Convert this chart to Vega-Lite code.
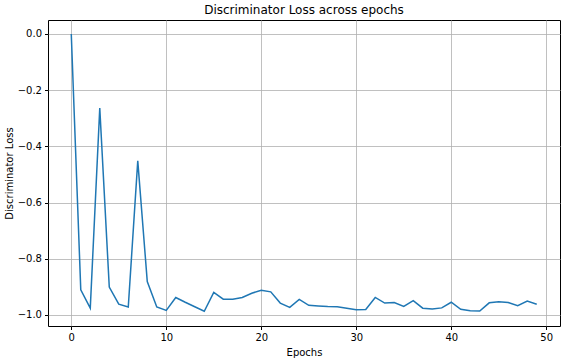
{
  "$schema": "https://vega.github.io/schema/vega-lite/v6.json",
  "autosize": "none",
  "width": 512,
  "height": 306,
  "padding": {"left": 48, "top": 20, "right": 7, "bottom": 35},
  "background": "white",
  "config": {
    "font": "DejaVu Sans",
    "view": {"stroke": "black", "strokeWidth": 1},
    "axis": {
      "labelFont": "DejaVu Sans",
      "titleFont": "DejaVu Sans",
      "labelFontSize": 10,
      "titleFontSize": 10,
      "titleFontWeight": "normal",
      "labelColor": "black",
      "titleColor": "black",
      "tickColor": "black",
      "domain": false,
      "grid": true,
      "gridColor": "#b0b0b0",
      "gridWidth": 0.8,
      "tickSize": 3.5,
      "labelPadding": 3
    }
  },
  "title": {
    "text": "Discriminator Loss across epochs",
    "fontSize": 12,
    "fontWeight": "normal",
    "font": "DejaVu Sans",
    "color": "black",
    "anchor": "middle",
    "offset": 3
  },
  "data": {
    "values": [
      {"epoch": 0, "loss": 0.0},
      {"epoch": 1, "loss": -0.911},
      {"epoch": 2, "loss": -0.976},
      {"epoch": 3, "loss": -0.264},
      {"epoch": 4, "loss": -0.901},
      {"epoch": 5, "loss": -0.962},
      {"epoch": 6, "loss": -0.972},
      {"epoch": 7, "loss": -0.452},
      {"epoch": 8, "loss": -0.881},
      {"epoch": 9, "loss": -0.972},
      {"epoch": 10, "loss": -0.984},
      {"epoch": 11, "loss": -0.938},
      {"epoch": 12, "loss": -0.955},
      {"epoch": 13, "loss": -0.971},
      {"epoch": 14, "loss": -0.987},
      {"epoch": 15, "loss": -0.920},
      {"epoch": 16, "loss": -0.944},
      {"epoch": 17, "loss": -0.944},
      {"epoch": 18, "loss": -0.938},
      {"epoch": 19, "loss": -0.923},
      {"epoch": 20, "loss": -0.912},
      {"epoch": 21, "loss": -0.918},
      {"epoch": 22, "loss": -0.958},
      {"epoch": 23, "loss": -0.973},
      {"epoch": 24, "loss": -0.945},
      {"epoch": 25, "loss": -0.966},
      {"epoch": 26, "loss": -0.968},
      {"epoch": 27, "loss": -0.970},
      {"epoch": 28, "loss": -0.971},
      {"epoch": 29, "loss": -0.976},
      {"epoch": 30, "loss": -0.982},
      {"epoch": 31, "loss": -0.981},
      {"epoch": 32, "loss": -0.938},
      {"epoch": 33, "loss": -0.958},
      {"epoch": 34, "loss": -0.956},
      {"epoch": 35, "loss": -0.970},
      {"epoch": 36, "loss": -0.949},
      {"epoch": 37, "loss": -0.976},
      {"epoch": 38, "loss": -0.979},
      {"epoch": 39, "loss": -0.975},
      {"epoch": 40, "loss": -0.955},
      {"epoch": 41, "loss": -0.980},
      {"epoch": 42, "loss": -0.985},
      {"epoch": 43, "loss": -0.986},
      {"epoch": 44, "loss": -0.957},
      {"epoch": 45, "loss": -0.953},
      {"epoch": 46, "loss": -0.956},
      {"epoch": 47, "loss": -0.967},
      {"epoch": 48, "loss": -0.951},
      {"epoch": 49, "loss": -0.962}
    ]
  },
  "mark": {"type": "line", "color": "#1f77b4", "strokeWidth": 1.5, "clip": true},
  "encoding": {
    "x": {
      "field": "epoch",
      "type": "quantitative",
      "scale": {"domain": [-2.45, 51.45], "nice": false, "zero": false},
      "axis": {"title": "Epochs", "values": [0, 10, 20, 30, 40, 50], "format": "d", "titlePadding": 5}
    },
    "y": {
      "field": "loss",
      "type": "quantitative",
      "scale": {"domain": [-1.0395, 0.0495], "nice": false, "zero": false},
      "axis": {"title": "Discriminator Loss", "values": [-1.0, -0.8, -0.6, -0.4, -0.2, 0.0], "format": ".1f", "titlePadding": 3}
    }
  }
}
